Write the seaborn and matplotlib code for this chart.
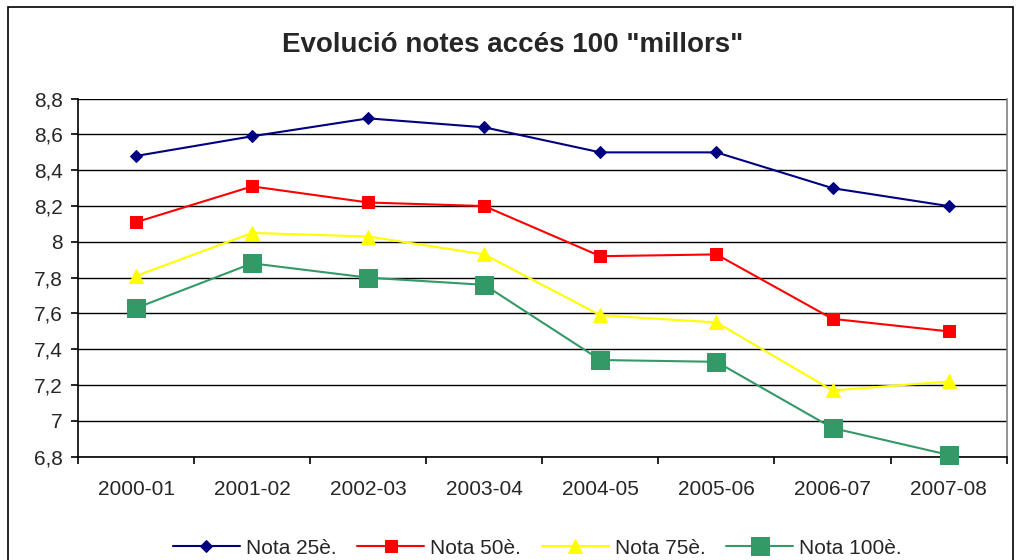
import matplotlib

matplotlib.use("Agg")

import matplotlib.pyplot as plt
import numpy as np
import pandas as pd
import seaborn as sns
from matplotlib.patches import Rectangle
from matplotlib.ticker import FixedLocator, FuncFormatter

title = 'Evolució notes accés 100 "millors"'
cursos = ["2000-01", "2001-02", "2002-03", "2003-04",
          "2004-05", "2005-06", "2006-07", "2007-08"]
nota_25 = [8.48, 8.59, 8.69, 8.64, 8.50, 8.50, 8.30, 8.20]
nota_50 = [8.11, 8.31, 8.22, 8.20, 7.92, 7.93, 7.57, 7.50]
nota_75 = [7.81, 8.05, 8.03, 7.93, 7.59, 7.55, 7.17, 7.22]
nota_100 = [7.63, 7.88, 7.80, 7.76, 7.34, 7.33, 6.96, 6.81]
series_names = ["Nota 25è.", "Nota 50è.", "Nota 75è.", "Nota 100è."]
y_ticks = [6.8, 7.0, 7.2, 7.4, 7.6, 7.8, 8.0, 8.2, 8.4, 8.6, 8.8]

# look of each series: colour, marker, marker size
styles = {
    "Nota 25è.": ("#000080", "D", 6.6),
    "Nota 50è.": ("#FF0000", "s", 8.2),
    "Nota 75è.": ("#FFFF00", "^", 10),
    "Nota 100è.": ("#339966", "s", 13),
}

df = pd.DataFrame({
    "curs": cursos * 4,
    "nota": nota_25 + nota_50 + nota_75 + nota_100,
    "serie": np.repeat(series_names, len(cursos)),
})

sns.set_theme(style="white")
plt.rcParams["font.family"] = ["Liberation Sans", "DejaVu Sans"]

fig = plt.figure(figsize=(10.16, 5.6), dpi=100)
ax = fig.add_axes([0.0768, 0.1845, 0.914, 0.6393])

# outer chart frame (bottom edge is cut off in the reference)
fig.patches.append(Rectangle((8 / 1016, -0.1), 1005 / 1016, 1.1 - 7 / 560,
                             transform=fig.transFigure, fill=False,
                             edgecolor="black", linewidth=1.2))

for name in series_names:
    color, marker, msize = styles[name]
    sub = df[df["serie"] == name]
    sns.lineplot(data=sub, x="curs", y="nota", ax=ax, color=color,
                 marker=marker, markersize=msize, markeredgecolor=color,
                 linewidth=1.5, label=name, sort=False, clip_on=False,
                 zorder=3)

ax.set_xlim(-0.5, len(cursos) - 0.5)
ax.set_ylim(6.8, 8.8)
ax.yaxis.set_major_locator(FixedLocator(y_ticks))
ax.yaxis.set_major_formatter(
    FuncFormatter(lambda v, _: f"{v:g}".replace(".", ",")))
ax.set_xlabel("")
ax.set_ylabel("")

ax.grid(axis="y", color="black", linewidth=1)
ax.grid(axis="x", visible=False)
ax.set_axisbelow(True)

for side in ["left", "bottom"]:
    ax.spines[side].set_color("black")
    ax.spines[side].set_linewidth(1.2)
ax.spines["right"].set_color("#808080")
ax.spines["right"].set_linewidth(1.2)
ax.spines["top"].set_visible(False)

ax.set_xticks(np.arange(len(cursos) + 1) - 0.5, minor=True)
ax.tick_params(axis="x", which="major", length=0, pad=17, labelsize=15)
ax.tick_params(axis="x", which="minor", bottom=True, length=5,
               width=1.2, color="black")
ax.tick_params(axis="y", which="major", left=True, length=5, width=1.2,
               color="black", pad=6, labelsize=15)

fig.suptitle(title, x=0.505, y=1 - 45 / 560, va="center",
             fontsize=20, fontweight="bold")

handles, labels = ax.get_legend_handles_labels()
ax.get_legend().remove()
fig.legend(handles, labels, loc="center", ncol=4, frameon=False,
           bbox_to_anchor=(0.529, 1 - 548 / 560), fontsize=15,
           handlelength=3.2, handletextpad=0.3, columnspacing=1.0)

fig.savefig("out.png", dpi=100, facecolor="white")
